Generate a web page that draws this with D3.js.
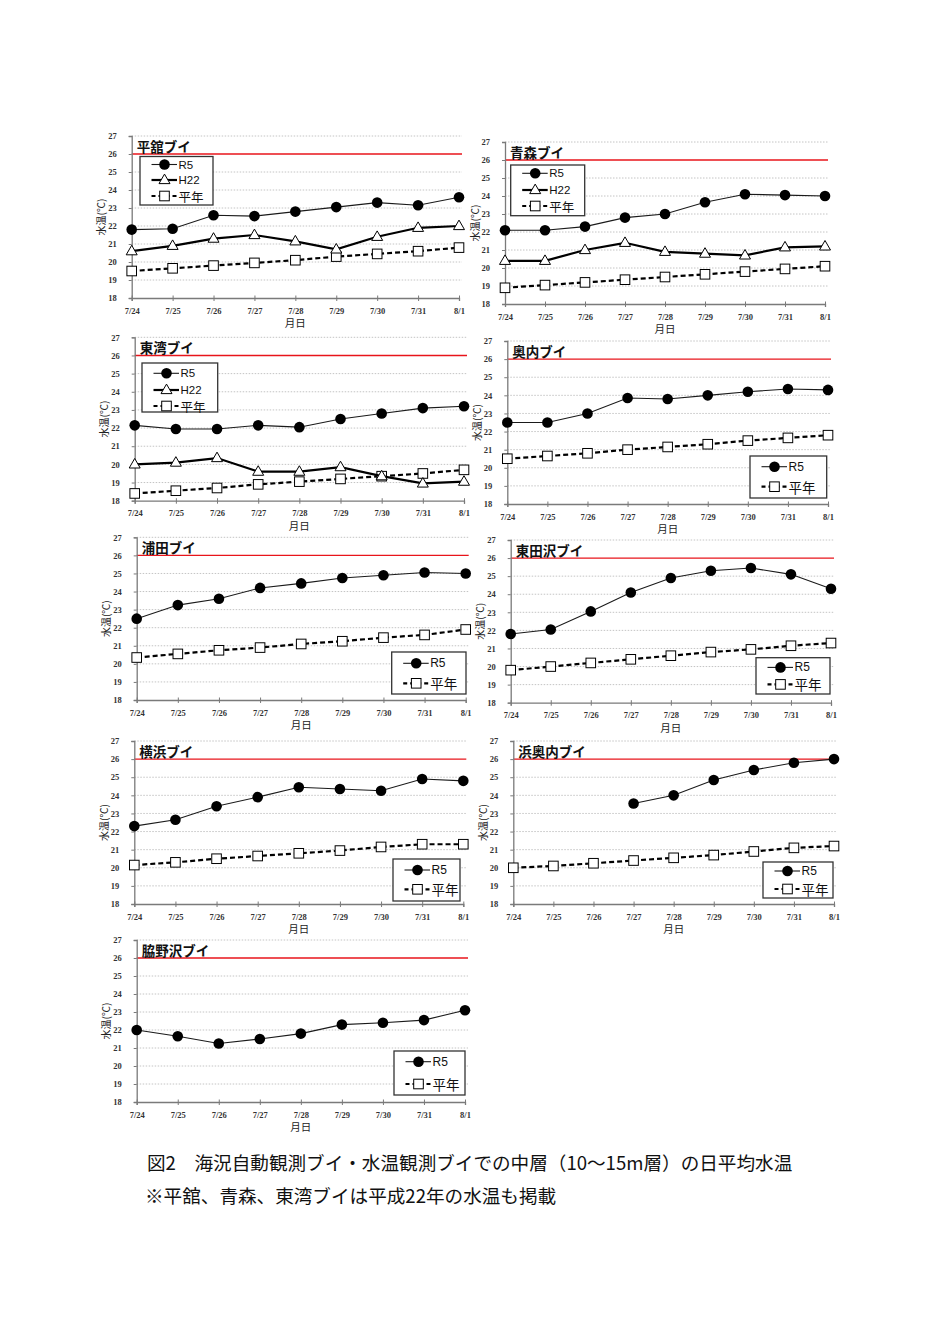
<!DOCTYPE html>
<html><head><meta charset="utf-8">
<script src="https://cdn.jsdelivr.net/npm/d3@7"></script>
<style>
html,body{margin:0;padding:0;background:#fff;}
svg{display:block;}
</style>
</head><body>
<svg id="c" width="944" height="1337"></svg>
<script>
// ---------------- DATA ----------------
const dates = ["7/24","7/25","7/26","7/27","7/28","7/29","7/30","7/31","8/1"];
const yTicks = [18,19,20,21,22,23,24,25,26,27];
const yAxisTitle = "水温(℃)";
const xAxisTitle = "月日";
const seriesNames = ["R5","H22","平年"];
const stationNames = ["平舘ブイ","青森ブイ","東湾ブイ","奥内ブイ","浦田ブイ","東田沢ブイ","横浜ブイ","浜奥内ブイ","脇野沢ブイ"];
const thresholdValue = 26;

const hiradateR5  = [21.8,21.85,22.6,22.55,22.8,23.05,23.3,23.15,23.6];
const hiradateH22 = [20.6,20.9,21.3,21.5,21.15,20.7,21.4,21.9,22.0];
const hiradateAvg = [19.5,19.65,19.8,19.95,20.1,20.3,20.45,20.6,20.8];

const aomoriR5  = [22.1,22.1,22.3,22.8,23.0,23.65,24.1,24.05,24.0];
const aomoriH22 = [20.4,20.4,21.0,21.4,20.9,20.8,20.7,21.15,21.2];
const aomoriAvg = [18.9,19.05,19.2,19.35,19.5,19.65,19.8,19.95,20.1];

const higashiwanR5  = [22.15,21.95,21.95,22.15,22.05,22.5,22.8,23.1,23.2];
const higashiwanH22 = [20.0,20.1,20.35,19.6,19.6,19.85,19.35,18.95,19.05];
const higashiwanAvg = [18.4,18.55,18.7,18.9,19.05,19.2,19.35,19.5,19.7];

const okunaiR5  = [22.5,22.5,23.0,23.85,23.8,24.0,24.2,24.35,24.3];
const okunaiAvg = [20.5,20.65,20.8,21.0,21.15,21.3,21.5,21.65,21.8];

const uratR5  = [22.5,23.25,23.6,24.2,24.45,24.75,24.9,25.05,25.0];
const uratAvg = [20.35,20.55,20.75,20.9,21.1,21.25,21.45,21.6,21.9];

const higashitazawaR5  = [21.8,22.05,23.05,24.1,24.9,25.3,25.45,25.1,24.3];
const higashitazawaAvg = [19.8,20.0,20.2,20.4,20.6,20.8,20.95,21.15,21.3];

const yokohamaR5  = [22.3,22.65,23.4,23.9,24.45,24.35,24.25,24.9,24.8];
const yokohamaAvg = [20.15,20.3,20.5,20.65,20.8,20.95,21.15,21.3,21.3];

const hamaokunaiR5  = [null,null,null,23.55,24.0,24.85,25.4,25.8,26.0];
const hamaokunaiAvg = [20.0,20.1,20.25,20.4,20.55,20.7,20.9,21.1,21.2];

const wakinosawaR5  = [22.0,21.65,21.25,21.5,21.8,22.3,22.4,22.55,23.1];
const wakinosawaAvg = [null,null,null,null,null,null,null,null,null];

const captionLines = [
  "図2　海況自動観測ブイ・水温観測ブイでの中層（10～15m層）の日平均水温",
  "※平舘、青森、東湾ブイは平成22年の水温も掲載"
];

// ---------------- LAYOUT ----------------
const panels = [
  {name:stationNames[0], r5:hiradateR5, h22:hiradateH22, avg:hiradateAvg, x0:131.7,x1:459,  yt:136,  yb:298,  lg:{x:140,y:156.5,w:73,h:48.5, ys:[8,23.5,39.5]}},
  {name:stationNames[1], r5:aomoriR5, h22:aomoriH22, avg:aomoriAvg,       x0:505,  x1:825,  yt:142,  yb:304,  lg:{x:510.7,y:165,w:74,h:50.7, ys:[8.3,25,41]}},
  {name:stationNames[2], r5:higashiwanR5, h22:higashiwanH22, avg:higashiwanAvg, x0:134.7,x1:464, yt:337.3,yb:500.7, lg:{x:142,y:363,w:75.7,h:49, ys:[10.3,27,43]}},
  {name:stationNames[3], r5:okunaiR5, h22:null, avg:okunaiAvg,             x0:507.3,x1:828,  yt:341,  yb:504,  lg:{x:750,y:456,w:76.7,h:42, ys:[10.7,30.7]}},
  {name:stationNames[4], r5:uratR5, h22:null, avg:uratAvg,                 x0:136.7,x1:465.7,yt:537.3,yb:700,  lg:{x:391.7,y:652,w:74.3,h:42, ys:[11.3,31.3]}},
  {name:stationNames[5], r5:higashitazawaR5, h22:null, avg:higashitazawaAvg, x0:510.7,x1:831, yt:540, yb:702.7, lg:{x:756,y:657.7,w:74,h:36.3, ys:[9.7,26.7]}},
  {name:stationNames[6], r5:yokohamaR5, h22:null, avg:yokohamaAvg,         x0:134.3,x1:463.3,yt:741,  yb:904,  lg:{x:393,y:859,w:67,h:42, ys:[11,30.3]}},
  {name:stationNames[7], r5:hamaokunaiR5, h22:null, avg:hamaokunaiAvg,     x0:513.3,x1:834,  yt:741,  yb:904,  lg:{x:763,y:862,w:70,h:36, ys:[9,27]}},
  {name:stationNames[8], r5:wakinosawaR5, h22:null, avg:wakinosawaAvg,     x0:136.7,x1:465,  yt:940,  yb:1102, lg:{x:394,y:1051,w:71,h:44, ys:[10.7,33]}}
];

const svg = d3.select("#c");
svg.append("rect").attr("width",944).attr("height",1337).attr("fill","#fff");

const triPath = (cx,cy,s)=>{ const h=s*0.866; return `M${cx},${cy-h*0.62}L${cx+s/2},${cy+h*0.38}L${cx-s/2},${cy+h*0.38}Z`; };

function drawMarker(g, type, cx, cy){
  if(type==="circle"){
    g.append("circle").attr("cx",cx).attr("cy",cy).attr("r",5.3).attr("fill","#000");
  } else if(type==="tri"){
    g.append("path").attr("d",triPath(cx,cy,11)).attr("fill","#fff").attr("stroke","#000").attr("stroke-width",1);
  } else {
    g.append("rect").attr("x",cx-4.8).attr("y",cy-4.8).attr("width",9.6).attr("height",9.6)
      .attr("fill","#fff").attr("stroke","#000").attr("stroke-width",1);
  }
}

const styles = {
  r5:  {stroke:"#1a1a1a", width:1.1, dash:null, marker:"circle"},
  h22: {stroke:"#000", width:2.2, dash:null, marker:"tri"},
  avg: {stroke:"#000", width:2.2, dash:"5,3", marker:"sq"}
};

panels.forEach(p=>{
  const g = svg.append("g");
  const x = d3.scalePoint().domain(dates).range([p.x0,p.x1]);
  const y = d3.scaleLinear().domain([18,27]).range([p.yb,p.yt]);

  // gridlines
  g.append("g").selectAll("line").data(yTicks.filter(t=>t!==18 && t!==thresholdValue)).join("line")
    .attr("x1",p.x0).attr("x2",p.x1+3).attr("y1",d=>y(d)).attr("y2",d=>y(d))
    .attr("stroke","#c4c4c4").attr("stroke-width",1).attr("stroke-dasharray","1.5,1.5");

  // threshold line
  g.append("line").attr("x1",p.x0).attr("x2",p.x1+3).attr("y1",y(thresholdValue)).attr("y2",y(thresholdValue))
    .attr("stroke","#e8141b").attr("stroke-width",1.4);

  // y axis
  const ya = g.append("g").attr("transform",`translate(${p.x0},0)`)
    .call(d3.axisLeft(y).tickValues(yTicks).tickSize(3).tickPadding(12).tickFormat(d3.format("d")));
  ya.select(".domain").attr("stroke","#7a7a7a").attr("stroke-width",1.3);
  ya.selectAll(".tick line").attr("stroke","#7a7a7a");
  ya.selectAll("text").attr("font-family","Liberation Serif").attr("font-size",8.5).attr("font-weight","bold").attr("fill","#333");

  // x axis
  const xa = g.append("g").attr("transform",`translate(0,${p.yb})`)
    .call(d3.axisBottom(x).tickSize(3).tickPadding(6.5));
  xa.select(".domain").attr("stroke","#7a7a7a").attr("stroke-width",1.3);
  xa.selectAll(".tick line").attr("stroke","#7a7a7a").attr("y1",-2.5).attr("y2",3);
  xa.selectAll("text").attr("font-family","Liberation Serif").attr("font-size",8.5).attr("font-weight","bold").attr("fill","#333");

  // axis titles
  g.append("text").attr("transform",`translate(${p.x0-31},${(p.yt+p.yb)/2}) rotate(-90)`)
    .attr("text-anchor","middle").attr("dominant-baseline","central")
    .attr("font-family","Noto Sans CJK JP").attr("font-size",10).attr("fill","#222").text(yAxisTitle);
  g.append("text").attr("x",(p.x0+p.x1)/2).attr("y",p.yb+29).attr("text-anchor","middle")
    .attr("font-family","Noto Sans CJK JP").attr("font-size",10.5).attr("fill","#222").text(xAxisTitle);

  // series
  const series = [["avg",p.avg],["h22",p.h22],["r5",p.r5]].filter(s=>s[1]);
  series.forEach(([k,vals])=>{
    const st = styles[k];
    const line = d3.line().defined(d=>d[1]!=null).x(d=>x(d[0])).y(d=>y(d[1]));
    const pts = dates.map((d,i)=>[d,vals[i]]);
    g.append("path").attr("d",line(pts)).attr("fill","none").attr("stroke",st.stroke)
      .attr("stroke-width",st.width).attr("stroke-dasharray",st.dash);
    pts.filter(d=>d[1]!=null).forEach(d=>drawMarker(g,st.marker,x(d[0]),y(d[1])));
  });

  // title
  g.append("text").attr("x",p.x0+5).attr("y",p.yt+16).attr("font-family","Noto Sans CJK JP")
    .attr("font-weight","bold").attr("font-size",13.5).attr("fill","#111").text(p.name);

  // legend
  const L = p.lg;
  const lg = g.append("g");
  lg.append("rect").attr("x",L.x).attr("y",L.y).attr("width",L.w).attr("height",L.h)
    .attr("fill","#fff").attr("stroke","#333").attr("stroke-width",1.3);
  const entries = p.h22 ? ["r5","h22","avg"] : ["r5","avg"];
  const labels = {r5:seriesNames[0],h22:seriesNames[1],avg:seriesNames[2]};
  const three = entries.length===3;
  entries.forEach((k,i)=>{
    const st = styles[k];
    const cy = L.y + L.ys[i];
    lg.append("line").attr("x1",L.x+11.5).attr("x2",L.x+37).attr("y1",cy).attr("y2",cy)
      .attr("stroke",st.stroke).attr("stroke-width",st.width).attr("stroke-dasharray",k==="avg"?"4,3":null);
    drawMarker(lg,st.marker,L.x+24.5,cy);
    lg.append("text").attr("x",L.x+38.5).attr("y",cy).attr("dominant-baseline","central")
      .attr("font-family", k==="avg" ? "Noto Sans CJK JP" : "Liberation Sans")
      .attr("font-size", k==="avg" ? (three?12.5:13.5) : (three?11.5:12)).attr("fill","#111").text(labels[k]);
  });
});

// caption
captionLines.forEach((t,i)=>{
  svg.append("text").attr("x", i===0?147:145).attr("y", i===0?1170:1203)
    .attr("font-family","Noto Sans CJK JP").attr("font-size",18.6).attr("fill","#111").text(t);
});
</script>
</body></html>
